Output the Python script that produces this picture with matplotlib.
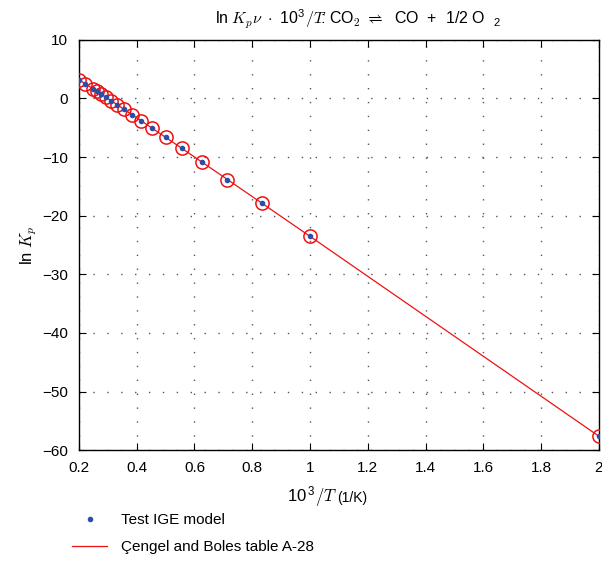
import matplotlib
matplotlib.use("Agg")
import matplotlib.pyplot as plt
import numpy as np

plt.rcParams['font.family'] = ['Liberation Sans', 'DejaVu Sans']
plt.rcParams['mathtext.fontset'] = 'cm'

# Temperatures (K) and ln Kp from Cengel & Boles table A-28, CO2 <=> CO + 1/2 O2
T_table = [500, 1000, 1200, 1400, 1600, 1800, 2000, 2200, 2400, 2600, 2800,
           3000, 3200, 3400, 3600, 3800, 4000, 4500, 5000]
lnKp_table = [-57.616, -23.529, -17.871, -13.842, -10.830, -8.497, -6.635,
              -5.120, -3.860, -2.801, -1.894, -1.111, -0.429, 0.169, 0.701,
              1.176, 1.599, 2.490, 3.197]
# Test IGE model values at the same temperatures
T_model = T_table
lnKp_model = [-57.62, -23.53, -17.87, -13.84, -10.83, -8.50, -6.64,
              -5.12, -3.86, -2.80, -1.89, -1.11, -0.43, 0.17, 0.70,
              1.18, 1.60, 2.49, 3.20]

xticks = [0.2, 0.4, 0.6, 0.8, 1.0, 1.2, 1.4, 1.6, 1.8, 2.0]
xticklabels = ['0.2', '0.4', '0.6', '0.8', '1', '1.2', '1.4', '1.6', '1.8', '2']
yticks = [-60, -50, -40, -30, -20, -10, 0, 10]

x_table = 1e3 / np.array(T_table)
x_model = 1e3 / np.array(T_model)

fig = plt.figure(figsize=(6.02, 5.84), dpi=100)
ax = fig.add_axes([0.131, 0.229, 0.864, 0.703])

ax.plot(x_table, lnKp_table, color='#ee1111', lw=0.9, zorder=2,
        label='Çengel and Boles table A-28')
ax.plot(x_table, lnKp_table, ls='none', marker='o', ms=9.5, mfc='none',
        mec='#ee1111', mew=1.1, zorder=3)
ax.plot(x_model, lnKp_model, ls='none', marker='o', ms=3, color='#2b4fa8',
        mec='#2b4fa8', zorder=4, label='Test IGE model')

ax.set_xlim(0.2, 2.0)
ax.set_ylim(-60, 10)
ax.set_xticks(xticks)
ax.set_xticklabels(xticklabels)
ax.set_yticks(yticks)
ax.set_yticklabels([str(v).replace('-', '\u2212') for v in yticks])
ax.tick_params(direction='in', length=5, labelsize=11, pad=8,
               top=True, right=True)
ax.grid(True, ls=(0, (1, 9)), color='#555555', lw=1.0)
for s in ax.spines.values():
    s.set_linewidth(1.0)

fig.text(358 / 602, 1 - 19 / 584,
         r'ln $K_p\nu\ \cdot\ \mathregular{10}^\mathregular{3}/T\!$: CO$_2$ $\rightleftharpoons$  CO  +  1/2 O  $_\mathregular{2}$',
         fontsize=11.5, ha='center', va='center')
fig.text(312 / 602, 1 - 497 / 584, r'$\mathregular{10}^{\,\mathregular{3}}/T$',
         fontsize=12, ha='center', va='center')
fig.text(352 / 602, 1 - 498 / 584, '(1/K)', fontsize=10,
         ha='center', va='center')
ax.set_ylabel(r'ln $K_p$', fontsize=12, labelpad=2)

h, l = ax.get_legend_handles_labels()
order = [1, 0]
fig.legend([h[i] for i in order], [l[i] for i in order], loc='upper left',
           bbox_to_anchor=(0.097, 0.145), frameon=False, fontsize=11,
           handlelength=2.3, handletextpad=0.9, labelspacing=0.85)

fig.savefig('out.png', dpi=100)
